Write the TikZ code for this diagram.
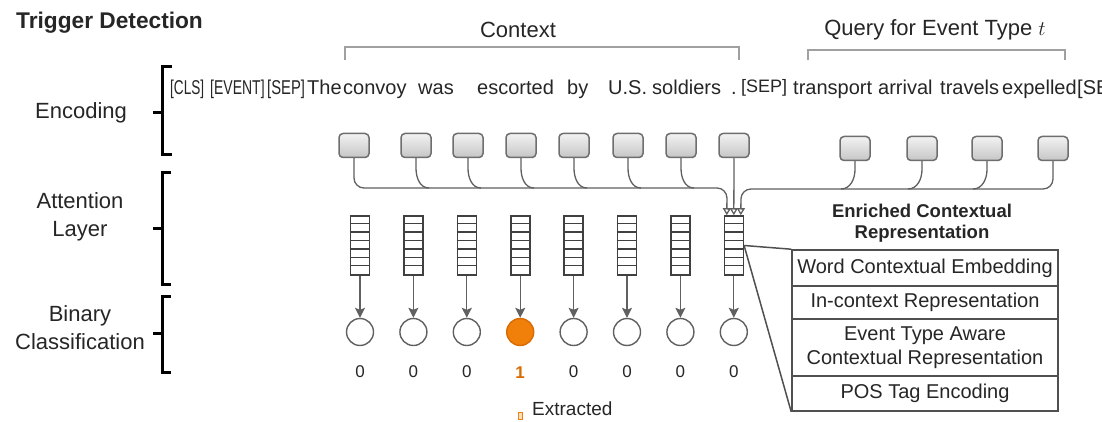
\documentclass[tikz,border=0pt]{standalone}
\usepackage{fontspec}
\setmainfont{Liberation Sans}
\usepackage{graphicx}
\usetikzlibrary{arrows.meta}
\definecolor{lgray}{HTML}{606060}
\definecolor{bgray}{HTML}{A0A0A0}
\definecolor{orng}{HTML}{F0800A}
\definecolor{orngd}{HTML}{D96A00}
\definecolor{tblgray}{HTML}{505050}
\definecolor{txt}{HTML}{262626}
\begin{document}
\begin{tikzpicture}[x=1pt,y=-1pt,
  lab/.style={font=\fontsize{22}{28}\selectfont, align=center, text=txt, inner sep=0},
  tok/.style={font=\fontsize{20}{24}\selectfont, anchor=base west, inner sep=0, text=txt},
  embbox/.style={draw={rgb,255:red,110;green,110;blue,110}, line width=1.5pt, rounded corners=4pt,
     top color=gray!10, bottom color=gray!45, minimum width=30pt, minimum height=24pt, inner sep=0},
  colbox/.style={draw=black!75, line width=1.6pt, fill=white, minimum width=19pt, minimum height=59pt, inner sep=0},
  circ/.style={circle, draw=lgray, line width=1.4pt, fill=white, minimum size=27pt, inner sep=0},
  conn/.style={draw=lgray, line width=1.3pt},
  bra/.style={line width=3pt, draw=black},
  topbra/.style={line width=2pt, draw=bgray},
  num/.style={font=\fontsize{17}{20}\selectfont, text=txt, inner sep=0},
  tabrow/.style={draw=tblgray, line width=1.6pt, minimum width=266pt, inner sep=0,
     font=\fontsize{20}{24}\selectfont, align=center, text=txt},
  opentip/.style={-{Triangle[open,length=7pt,width=8pt]}},
  fulltip/.style={-{Stealth[length=10pt,width=10pt,inset=2pt]}}
]
\fill[white] (0,0) rectangle (1102,422);
\path[use as bounding box] (0,0) rectangle (1102,422);
\clip (0,0) rectangle (1102,422);

% title and row labels
\node[font=\bfseries\fontsize{22.7}{26}\selectfont, anchor=west, inner sep=0, text=txt] (title) at (16,23) {Trigger Detection};
\node[lab] (lenc) at (81,113) {Encoding};
\node[lab] (latt) at (80,217) {Attention\\Layer};
\node[lab] (lbin) at (80,328) {Binary\\Classification};

% left brackets
\draw[bra] (172,67) -- (162,67) -- (162,155) -- (172,155);
\draw[bra] (162,113) -- (153,113);
\draw[bra] (171,173) -- (162,173) -- (162,284) -- (171,284);
\draw[bra] (162,228) -- (153,228);
\draw[bra] (171,296) -- (162,296) -- (162,372) -- (171,372);
\draw[bra] (162,333) -- (153,333);

% top brackets
\node[lab] (lctx) at (518,30) {Context};
\node[lab] (lqry) at (935,30) {Query for Event Type~\(t\)};
\draw[topbra] (345,60) -- (345,47) -- (739,47) -- (739,60);
\draw[topbra] (808,60) -- (808,50) -- (1065,50) -- (1065,60);

% tokens
\node[tok] (t1) at (170,95) {\scalebox{0.68}[1]{[CLS]}};
\node[tok] (t2) at (210,95) {\scalebox{0.7}[1]{[EVENT]}};
\node[tok] (t3) at (267,95) {\scalebox{0.74}[1]{[SEP]}};
\node[tok] (t4) at (307,95) {The};
\node[tok] (t5) at (343,95) {convoy};
\node[tok] (t6) at (418,95) {was};
\node[tok] (t7) at (477,95) {escorted};
\node[tok] (t8) at (567,95) {by};
\node[tok] (t9) at (608,95) {U.S.};
\node[tok] (t10) at (652,95) {soldiers};
\node[tok] (t11) at (731,95) {.};
\node[tok, font=\fontsize{18}{22}\selectfont] (t12) at (741,93) {[SEP]};
\node[tok] (t13) at (793,95) {transport};
\node[tok] (t14) at (878,95) {arrival};
\node[tok] (t15) at (940,95) {travels};
\node[tok] (t16) at (1002,95) {expelled};
\node[tok] (t17) at (1077,95) {[SEP]};

% embedding boxes
\foreach \x [count=\i] in {354,416,468,521,574,628,681,734}
  \node[embbox] (e\i) at (\x,145.5) {};
\foreach \x [count=\i] in {855,922,987,1053}
  \node[embbox] (q\i) at (\x,148.5) {};

% attention columns
\foreach \x [count=\i] in {360,413.4,466.8,520.2,573.6,627,680.4,733.8} {
  \node[colbox] (c\i) at (\x,245.5) {};
  \foreach \k in {1,...,6}
    \draw[black!75, line width=1.3pt] ([yshift=-\k*8.43pt]c\i.north west) -- ([yshift=-\k*8.43pt]c\i.north east);
}

% circles and labels
\foreach \x [count=\i] in {360,413.4,466.8,520.2,573.6,627,680.4,733.8} {
  \ifnum\i=4
    \node[circ, fill=orng, draw=orngd] (o\i) at (\x,332) {};
    \node[num, font=\bfseries\fontsize{17}{20}\selectfont, text=orngd] (n\i) at (\x,373) {1};
  \else
    \node[circ] (o\i) at (\x,332) {};
    \node[num] (n\i) at (\x,372) {0};
  \fi
  \draw[conn, fulltip] (c\i.south) -- (o\i.north);
}

% context bus
\draw[conn, rounded corners=10pt, opentip] (e1.south) -- (e1.south |- 0,188) -- (727,188) -- ([xshift=-7pt]c8.north);
\foreach \x [count=\i from 2] in {416,468,521,574,628,681}
  \draw[conn] (e\i.south) -- ([yshift=-10pt]e\i.south) to[out=-90,in=180] (\x+13,188);
\draw[conn, opentip] (e8.south) -- (c8.north);

% query bus
\draw[conn, rounded corners=10pt, opentip] (q4.south) -- (q4.south |- 0,189) -- (741,189) -- ([xshift=7pt]c8.north);
\foreach \x [count=\i] in {855,922,987}
  \draw[conn] (q\i.south) -- ([yshift=-8pt]q\i.south) to[out=-90,in=0] (\x-14,189);

% enriched representation
\node[font=\bfseries\fontsize{18.5}{21}\selectfont, align=center, text=txt, inner sep=0] (ecr) at (922,223) {Enriched Contextual\\Representation};
\node[tabrow, minimum height=36pt] (r1) at (925,268) {Word Contextual Embedding};
\node[tabrow, minimum height=33pt] (r2) at (925,302.5) {In-context Representation};
\node[tabrow, minimum height=57pt] (r3) at (925,347.5) {Event Type Aware\\Contextual Representation};
\node[tabrow, minimum height=35pt] (r4) at (925,393.5) {POS Tag Encoding};
\draw[draw=tblgray, line width=1.5pt] (c8.east) -- (r1.north west);
\draw[draw=tblgray, line width=1.5pt] (c8.east) -- (r4.south west);

% legend
\node[draw=orng, fill=orng!25, line width=1pt, minimum width=4pt, minimum height=7pt, inner sep=0] (leg) at (520,416) {};
\node[font=\fontsize{19}{22}\selectfont, anchor=west, inner sep=0, text=txt] (legt) at (532,409) {Extracted};
\end{tikzpicture}
\end{document}
